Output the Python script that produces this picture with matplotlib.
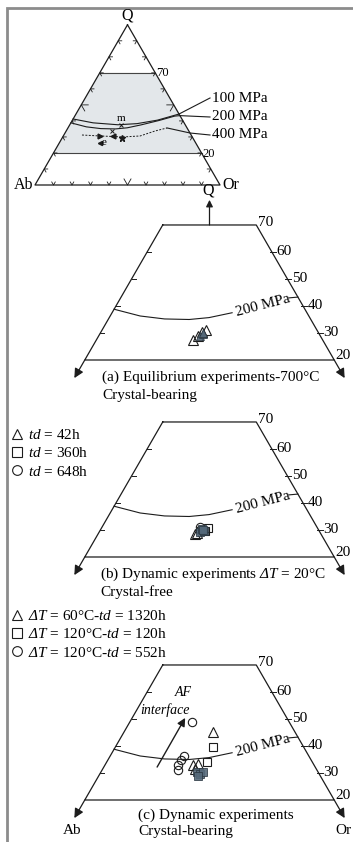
import numpy as np
import matplotlib
matplotlib.use('Agg')
import matplotlib.pyplot as plt
from matplotlib.patches import Polygon, FancyArrowPatch
from matplotlib.lines import Line2D

plt.rcParams['font.family'] = ['Liberation Serif', 'DejaVu Serif']
plt.rcParams['mathtext.fontset'] = 'custom'
plt.rcParams['mathtext.rm'] = 'Liberation Serif'
plt.rcParams['mathtext.it'] = 'Liberation Serif:italic'
# italic slot without the upright-Greek rule, used for "ΔT"
plt.rcParams['mathtext.sf'] = 'Liberation Serif:italic'
plt.rcParams['font.size'] = 11

INK = '#1c1c1c'
FILL = '#55697a'
SHADE = '#e3e7ea'

# minimum melt compositions (wt% Q and Or, Ab = 100 - Q - Or)
q_100 = [41.2, 38.8, 37.6, 38.3, 40.5, 44.3]
or_100 = [0.0, 12.0, 26.0, 36.0, 46.0, 55.7]
q_200 = [38.8, 36.3, 35.2, 35.0, 35.7, 37.5, 40.3, 43.0, 43.3]
or_200 = [0.0, 9.6, 18.0, 26.0, 32.0, 38.5, 47.0, 54.0, 56.7]
q_400 = [31.2, 30.6, 30.0, 30.6, 33.7, 35.6]
or_400 = [9.8, 19.9, 32.6, 41.5, 48.0, 53.6]

# (a) equilibrium experiments, 700 C
a_tri_q = [27.4, 28.9, 30.4, 31.1]
a_tri_or = [31.0, 31.9, 32.4, 33.3]
a_fill_q = [28.9, 29.6, 30.0]
a_fill_or = [32.5, 33.1, 32.8]

# (b) dynamic experiments, dT = 20 C
b_tri_q = [28.5, 29.0]
b_tri_or = [31.1, 31.6]
b_sq_q = [30.7, 29.6]
b_sq_or = [34.2, 33.8]
b_circ_q = [31.1, 30.0]
b_circ_or = [31.4, 32.0]
b_fill_q = [29.3, 29.6, 30.4, 30.0]
b_fill_or = [32.3, 33.4, 32.4, 32.9]

# (c) dynamic experiments, crystal-bearing
c_circ_q = [48.9, 36.3, 34.8, 33.0, 31.1]
c_circ_or = [20.0, 23.7, 23.5, 23.4, 24.4]
c_tri_q = [45.2, 33.0, 33.3, 31.5]
c_tri_or = [28.5, 28.2, 29.7, 29.6]
c_sq_q = [39.6, 34.1]
c_sq_or = [31.3, 32.2]
c_fill_q = [30.4, 29.6, 30.4, 28.9]
c_fill_or = [30.8, 32.2, 32.7, 31.9]

# AF interface arrow (constant Or)
af_q = [32.2, 50.4]
af_or = [17.1, 17.0]

TOP = (127.5, 185.0, 185.0)      # centre x, side length, y of Q=0 (px)
GEO = {'a': (209.5, 311.8, 414.0),
       'b': (209.5, 311.8, 611.0),
       'c': (209.5, 311.8, 854.0)}


def tern(q, orr, geo):
    cx, side, y0 = geo
    q = np.asarray(q, float)
    orr = np.asarray(orr, float)
    x = cx - side / 2 + side * (orr + q / 2) / 100
    y = y0 - q / 100 * side * np.sqrt(3) / 2
    return x, y


def seg(ax, q, orr, geo, **kw):
    x, y = tern(q, orr, geo)
    ax.plot(x, y, **kw)
    return x, y


def arrow(ax, p0, p1, scale=12, lw=0.9):
    ax.add_patch(FancyArrowPatch(p0, p1, arrowstyle='-|>', mutation_scale=scale,
                                 color=INK, lw=lw, shrinkA=0, shrinkB=0))


def draw_top(ax):
    g = TOP
    x, y = tern([20, 70, 70, 20], [0, 0, 30, 80], g)
    ax.add_patch(Polygon(np.column_stack([x, y]), closed=True, fc=SHADE, ec='none', zorder=0))
    for qq in (70, 20):
        seg(ax, [qq, qq], [0, 100 - qq], g, color='#444', lw=0.8)
    seg(ax, [100, 0, 0, 100], [0, 0, 100, 0], g, color=INK, lw=0.9)

    c60, s60 = 0.5, np.sqrt(3) / 2
    for k in range(10, 100, 10):
        ln = 7 if k == 50 else 3.5
        xl, yl = tern(k, 0, g)
        ax.plot([xl + ln, xl, xl + ln * c60], [yl, yl, yl + ln * s60], color=INK, lw=0.6)
        xr, yr = tern(k, 100 - k, g)
        ax.plot([xr - ln, xr, xr - ln * c60], [yr, yr, yr + ln * s60], color=INK, lw=0.6)
        xb, yb = tern(0, k, g)
        ax.plot([xb - ln * c60, xb, xb + ln * c60], [yb - ln * s60, yb, yb - ln * s60],
                color=INK, lw=0.6)

    x, y = tern(100, 0, g)
    ax.text(x, y - 1, 'Q', ha='center', va='bottom', fontsize=11.5)
    x, y = tern(0, 0, g)
    ax.text(x - 2, y, 'Ab', ha='right', va='center', fontsize=11.5)
    x, y = tern(0, 100, g)
    ax.text(x + 2, y, 'Or', ha='left', va='center', fontsize=11.5)
    x, y = tern(70, 30, g)
    ax.text(x + 1, y, '70', ha='left', va='center', fontsize=9)
    x, y = tern(20, 80, g)
    ax.text(x + 1, y + 1, '20', ha='left', va='center', fontsize=9)

    x1, y1 = seg(ax, q_100, or_100, g, color=INK, lw=0.8)
    x2, y2 = seg(ax, q_200, or_200, g, color=INK, lw=0.8)
    x4, y4 = seg(ax, q_400, or_400, g, color=INK, lw=0.7, ls=(0, (2, 1.5)))

    # leaders to pressure labels
    lx = 210
    ax.plot([x1[-1], lx], [y1[-1], 98], color=INK, lw=0.8)
    ax.plot([x2[-1], lx], [y2[-1], 117], color=INK, lw=0.8)
    ax.plot([x4[-1], 190, lx], [y4[-1], 133, 135], color=INK, lw=0.8)
    ax.text(lx + 2, 99, '100 MPa', va='center', fontsize=11)
    ax.text(lx + 2, 117, '200 MPa', va='center', fontsize=11)
    ax.text(lx + 2, 135, '400 MPa', va='center', fontsize=11)

    # minimum / eutectic symbols
    mx, my = tern(37.5, 27.8, g)
    ax.plot(mx, my, marker='x', ms=3, color=INK, mew=0.7)
    ax.text(mx, my - 2, 'm', ha='center', va='bottom', fontsize=8)
    x, y = tern(33.9, 24.8, g)
    ax.plot(x, y, marker='x', ms=3, color=INK, mew=0.7)
    x, y = tern(30.6, 19.9, g)
    ax.plot(x, y, marker='>', ms=3.5, color=INK)
    x, y = tern(30.4, 26.9, g)
    ax.plot(x, y, marker='<', ms=3.5, color=INK)
    x, y = tern(26.5, 23.5, g)
    ax.plot(x - 3, y, marker='<', ms=3, color=INK)
    ax.text(x - 1, y, 'e', ha='left', va='center', fontsize=8)
    x, y = tern(29.3, 32.6, g)
    ax.plot(x, y, marker='*', ms=5, color=INK)


def draw_panel(ax, geo):
    seg(ax, [70, 70, 20, 20, 70], [0, 30, 80, 0, 0], geo, color=INK, lw=0.9)
    for o0, o1 in ((0, 0), (80, 86.7)):
        xs, ys = tern([20, 13.3], [o0, o1], geo)
        arrow(ax, (xs[0], ys[0]), (xs[1], ys[1]), scale=14)
    for k in (30, 40, 50, 60):
        xl, yl = tern(k, 0, geo)
        ax.plot([xl, xl + 4], [yl, yl], color=INK, lw=0.7)
        xr, yr = tern(k, 100 - k, geo)
        ax.plot([xr - 2, xr + 4], [yr, yr], color=INK, lw=0.7)
        ax.text(xr + 5, yr, str(k), ha='left', va='center', fontsize=11)
    x, y = tern(70, 30, geo)
    ax.text(x + 2, y - 2, '70', ha='left', va='center', fontsize=11)
    x, y = tern(20, 80, geo)
    ax.text(x + 1, y - 4, '20', ha='left', va='center', fontsize=11)

    x, y = seg(ax, q_200[:6], or_200[:6], geo, color=INK, lw=0.8)
    xe, ye = seg(ax, q_200[7:], or_200[7:], geo, color=INK, lw=0.8)
    ang = np.degrees(np.arctan2(-(ye[0] - y[-1]), xe[0] - x[-1]))
    xm, ym = tern(q_200[6], or_200[6], geo)
    ax.text(xm, ym, '200 MPa', ha='center', va='center', rotation=ang,
            rotation_mode='anchor', fontsize=11)


def scatter(ax, q, orr, geo, marker, filled=False, ms=6.5):
    x, y = tern(q, orr, geo)
    if filled:
        ax.plot(x, y, ls='none', marker=marker, ms=ms - 0.5, mfc=FILL, mec='#2a3640',
                mew=0.6, alpha=0.9, zorder=4)
    else:
        ax.plot(x, y, ls='none', marker=marker, ms=ms, mfc='none', mec=INK,
                mew=0.8, zorder=3)


fig = plt.figure(figsize=(3.53, 8.42), dpi=100)
ax = fig.add_axes([0, 0, 1, 1])
ax.set_xlim(0, 353)
ax.set_ylim(842, 0)
ax.axis('off')

# frame
ax.plot([7, 7, 353], [842, 8, 8], color='#8c8c8c', lw=2, solid_joinstyle='miter')

draw_top(ax)
for key in ('a', 'b', 'c'):
    draw_panel(ax, GEO[key])

# Q arrow linking the top triangle to the enlarged field
g = GEO['a']
xs, ys = tern([70, 79.3], [15, 10.35], g)
arrow(ax, (xs[0], ys[0]), (xs[1], ys[1]), scale=10)
ax.text(xs[1] - 1, ys[1] - 1, 'Q', ha='center', va='bottom', fontsize=11.5)

# (a)
scatter(ax, a_tri_q, a_tri_or, g, '^')
scatter(ax, a_fill_q, a_fill_or, g, '^', filled=True)
ax.text(102, 377, '(a) Equilibrium experiments-700°C', va='center')
ax.text(102, 395, 'Crystal-bearing', va='center')

# (b)
g = GEO['b']
scatter(ax, b_tri_q, b_tri_or, g, '^')
scatter(ax, b_sq_q, b_sq_or, g, 's', ms=6)
scatter(ax, b_circ_q, b_circ_or, g, 'o', ms=6)
scatter(ax, b_fill_q, b_fill_or, g, 's', filled=True)
ax.text(100, 574, r'(b) Dynamic experiments $\mathsf{\Delta T}$ = 20°C', va='center')
ax.text(100, 592, 'Crystal-free', va='center')

keys = [Line2D([], [], ls='none', marker=m, ms=7, mfc='none', mec=INK, mew=0.8)
        for m in ('^', 's', 'o')]
leg_b = ax.legend(keys, [r'$\mathit{td}$ = 42h', r'$\mathit{td}$ = 360h', r'$\mathit{td}$ = 648h'],
                  loc='upper left', bbox_to_anchor=(12 / 353, 1 - 428 / 842),
                  frameon=False, handlelength=0.6, handletextpad=0.45,
                  borderpad=0, borderaxespad=0, labelspacing=0.28, fontsize=11)
ax.add_artist(leg_b)

# (c)
g = GEO['c']
scatter(ax, c_circ_q, c_circ_or, g, 'o', ms=6)
scatter(ax, c_tri_q, c_tri_or, g, '^')
scatter(ax, c_sq_q, c_sq_or, g, 's', ms=6)
scatter(ax, c_fill_q, c_fill_or, g, 's', filled=True)
xs, ys = tern(af_q, af_or, g)
arrow(ax, (xs[0], ys[0]), (xs[1], ys[1]), scale=12, lw=1.0)
ax.text(183, 693, 'AF', ha='center', va='center', style='italic', fontsize=10)
ax.text(165, 710, 'interface', ha='center', va='center', style='italic', fontsize=10)
ax.text(138, 815, '(c) Dynamic experiments', va='center')
ax.text(138, 831, 'Crystal-bearing', va='center')
ax.text(72, 830, 'Ab', ha='center', va='center')
ax.text(343, 830, 'Or', ha='center', va='center')

ax.legend(keys, [r'$\mathsf{\Delta T}$ = 60°C-$\mathit{td}$ = 1320h',
                 r'$\mathsf{\Delta T}$ = 120°C-$\mathit{td}$ = 120h',
                 r'$\mathsf{\Delta T}$ = 120°C-$\mathit{td}$ = 552h'],
          loc='upper left', bbox_to_anchor=(12 / 353, 1 - 609 / 842),
          frameon=False, handlelength=0.6, handletextpad=0.45,
          borderpad=0, borderaxespad=0, labelspacing=0.28, fontsize=11)

fig.savefig('out.png', dpi=100)
